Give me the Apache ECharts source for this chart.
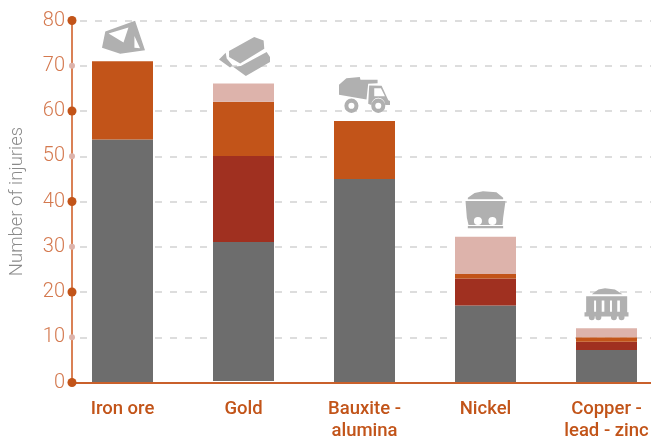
<!DOCTYPE html>
<html>
<head>
<meta charset="utf-8">
<style>html,body{margin:0;padding:0;background:#fff}#chart{width:651px;height:436px}</style>
<script src="https://cdn.jsdelivr.net/npm/echarts@6/dist/echarts.min.js"></script>
</head>
<body>
<div id="chart"></div>
<script>
var categories = ['Iron ore', 'Gold', 'Bauxite -\nalumina', 'Nickel', 'Copper -\nlead - zinc'];
var gapValues = [0, 0.35, 0, 0, 0];//gold sits just above the axis
var grayValues = [53.7, 30.7, 45, 17, 7.2];
var redValues = [0, 19, 0, 6, 1.8];
var orangeValues = [17.3, 12, 12.8, 1, 1];
var paleValues = [0, 4, 0, 8.2, 2];
var yTicks = [0, 10, 20, 30, 40, 50, 60, 70, 80];

// icons above the bars
var iconPaths = [
    'path://M315 92L405 60L435 148L360 158L305 140ZM325 98L370 125L385 80ZM403 105L403 140L420 142Z',
    'path://M85 92L160 50L188 60L190 85L118 130L85 110ZM55 118L75 97L78 115L95 135L88 142ZM97 140L120 137L197 95L207 110L207 125L135 168Z',
    'path://M418 195L440 176L480 172L482 180L533 180L533 190L505 192L500 238L418 224ZM508 197L545 198L565 240L570 242L570 254L556 254A21 21 0 0 0 514 254L505 250ZM523 205L523 228L555 228L543 205ZM434 256A21 21 0 1 1 476 256A21 21 0 1 1 434 256ZM446 256A9 9 0 1 0 464 256A9 9 0 1 0 446 256ZM514 256A21 21 0 1 1 556 256A21 21 0 1 1 514 256ZM526 256A9 9 0 1 0 544 256A9 9 0 1 0 526 256Z',
    'path://M85 52L105 38L130 33L170 36L190 52L190 57L85 57ZM78 62L197 62L190 112L188 134L87 134L82 112ZM103 122A12 12 0 1 0 127 122A12 12 0 1 0 103 122ZM146 122A12 12 0 1 0 170 122A12 12 0 1 0 146 122ZM85 137L190 137L190 144L85 144Z',
    'path://M455 342L475 328L495 324L525 328L548 342ZM438 348L562 348L562 395L438 395ZM462 360L462 393L468 393L468 360ZM485 360L485 393L493 393L493 360ZM510 360L510 393L516 393L516 360ZM532 360L532 393L540 393L540 360ZM433 395L566 395L566 407L433 407ZM446 409A9 9 0 1 1 464 409A9 9 0 1 1 446 409ZM466 409A9 9 0 1 1 484 409A9 9 0 1 1 466 409ZM513 409A9 9 0 1 1 531 409A9 9 0 1 1 513 409ZM536 409A9 9 0 1 1 554 409A9 9 0 1 1 536 409Z'
];
var iconSizes = [[43, 33], [51, 39], [51, 36], [40, 37], [44, 32]];
var iconOffsets = [[1, -24], [1, -27], [0, -26], [0, -27], [0, -24]];

var chartView = echarts.init(document.getElementById('chart'));

function barSeries(name, values, color) {
    return {
        name: name,
        type: 'bar',
        stack: 'injuries',
        barWidth: 61,
        itemStyle: { color: color },
        data: values
    };
}

var iconData = categories.map(function (c, i) {
    var total = gapValues[i] + grayValues[i] + redValues[i] + orangeValues[i] + paleValues[i];
    return {
        value: [i, total],
        symbol: iconPaths[i],
        symbolSize: iconSizes[i],
        symbolOffset: iconOffsets[i]
    };
});

var dotData = yTicks.map(function (t) {
    var major = t % 20 == 0;
    return {
        value: [0, t],
        symbolSize: major ? 9 : 6,
        itemStyle: { color: major ? '#c25419' : '#ddb3ab' }
    };
});

var option = {
    backgroundColor: '#fff',
    animation: false,
    // grid 0 holds the bars, grid 1 the visible axes that start at x=72
    grid: [
        { left: 62, width: 605, top: 20.5, height: 362, outerBoundsMode: 'none' },
        { left: 72, right: 0, top: 20.5, height: 362, outerBoundsMode: 'none' }
    ],
    xAxis: [{
        type: 'category',
        gridIndex: 0,
        data: categories,
        axisLine: { show: false },
        axisTick: { show: false },
        axisLabel: {
            interval: 0,
            color: '#c25419',
            fontFamily: 'Roboto',
            fontWeight: 500,
            fontSize: 18.5,
            lineHeight: 22,
            margin: 16,
            verticalAlign: 'top'
        }
    }, {
        type: 'value',
        gridIndex: 1,
        min: 0,
        max: 1,
        z: 3,
        splitLine: { show: false },
        axisLine: { show: true, onZero: false, lineStyle: { color: '#c9602b', width: 2 } },
        axisTick: { show: false },
        axisLabel: { show: false }
    }],
    yAxis: [{
        type: 'value',
        gridIndex: 0,
        min: 0,
        max: 80,
        show: false
    }, {
        type: 'value',
        gridIndex: 1,
        min: 0,
        max: 80,
        interval: 10,
        name: 'Number of injuries',
        nameLocation: 'middle',
        nameGap: 45,
        nameTextStyle: { color: '#8a8a8a', fontFamily: 'Roboto', fontWeight: 300, fontSize: 18.5 },
        axisLine: { show: true, onZero: false, lineStyle: { color: '#da8155', width: 2 } },
        axisTick: { show: false },
        axisLabel: { color: '#d4794f', fontFamily: 'Roboto', fontWeight: 300, fontSize: 20, margin: 7 },
        splitLine: { lineStyle: { color: '#dddddd', width: 2, type: [7, 8], dashOffset: 7 } }
    }],
    series: [
        barSeries('gap', gapValues, 'rgba(0,0,0,0)'),
        barSeries('gray', grayValues, '#6d6d6d'),
        barSeries('red', redValues, '#a03020'),
        barSeries('orange', orangeValues, '#c25419'),
        barSeries('pale', paleValues, '#ddb3ab'),
        { type: 'scatter', silent: true, xAxisIndex: 0, yAxisIndex: 0, itemStyle: { color: '#b0b0b0', opacity: 1 }, data: iconData },
        { type: 'scatter', silent: true, clip: false, symbol: 'circle', z: 5, xAxisIndex: 1, yAxisIndex: 1, itemStyle: { opacity: 1 }, data: dotData }
    ]
};
chartView.setOption(option);
</script>
</body>
</html>
